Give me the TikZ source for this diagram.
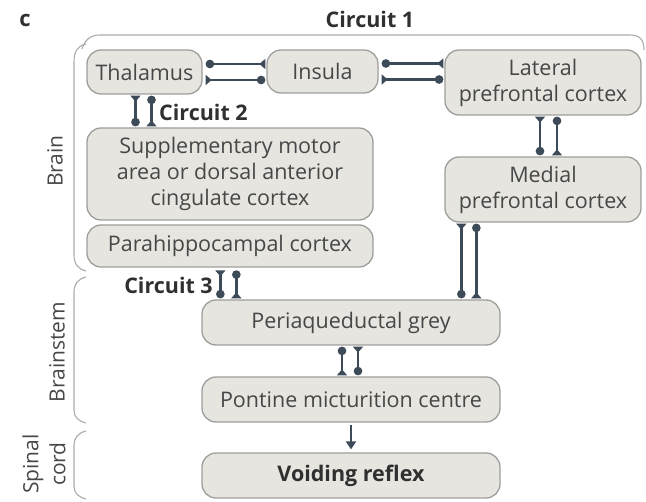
\documentclass[tikz,border=0pt]{standalone}
\usepackage{fontspec}
\setmainfont{Open Sans}
\usetikzlibrary{arrows.meta,calc}
\definecolor{boxfill}{HTML}{E6E5E0}
\definecolor{boxline}{HTML}{9E9E9C}
\definecolor{wire}{HTML}{3D4A58}
\definecolor{txt}{HTML}{474747}
\definecolor{txtdark}{HTML}{303030}
\definecolor{bracket}{HTML}{ABABAB}
\tikzset{
  region/.style={draw=boxline, line width=1.3pt, fill=boxfill, rounded corners=14pt,
    text=txt, font=\fontsize{21.5}{26}\selectfont, align=center, inner sep=0pt},
  heading/.style={text=txtdark, font=\fontsize{21.5}{24}\selectfont\bfseries, inner sep=0pt},
  side/.style={text=txt, font=\fontsize{21}{27}\selectfont, align=center, rotate=90, inner sep=0pt},
  brk/.style={draw=bracket, line width=1.1pt},
  link/.style={draw=wire, line width=2.3pt},
  dotend/.tip={Circle[length=8.5pt, width=8.5pt]},
  flatend/.tip={Triangle[reversed, length=6pt, width=10pt]},
  dotflat/.style={link, {dotend}-{flatend}, shorten <=1pt, shorten >=1pt},
  flatdot/.style={link, {flatend}-{dotend}, shorten <=1pt, shorten >=1pt},
}
\begin{document}
\begin{tikzpicture}[x=1pt, y=-1pt]
\useasboundingbox (0,0) rectangle (646,502);

% brackets grouping the regions
\draw[brk] (82,49) .. controls (85,40) and (90,35) .. (100,35) -- (630,35)
  .. controls (640,35) and (644,40) .. (644,50);
\draw[brk] (86,44) .. controls (77,46) and (74,52) .. (74,62) -- (74,255)
  .. controls (74,264) and (78,269) .. (86,271);
\draw[brk] (86,277) .. controls (78,279) and (74,284) .. (74,292) -- (74,410)
  .. controls (74,417) and (78,421) .. (86,423);
\draw[brk] (86,431) .. controls (78,433) and (74,438) .. (74,445) -- (74,486)
  .. controls (74,493) and (78,497) .. (86,499);

% titles and side labels
\node[heading, font=\fontsize{22}{24}\selectfont\bfseries] (lbl) at (25,20) {c};
\node[heading] (c1) at (370,19) {Circuit 1};
\node[side] (brain) at (55,161) {Brain};
\node[side] (stem) at (57,352) {Brainstem};
\node[side] (cord) at (44,464) {Spinal\\cord};

% regions
\node[region, minimum width=115pt, minimum height=44pt] (thal) at (144.5,72) {Thalamus};
\node[region, minimum width=111pt, minimum height=43pt] (ins) at (322.5,71.5) {Insula};
\node[region, minimum width=196pt, minimum height=65pt] (lpfc) at (543,82.5) {Lateral\\prefrontal cortex};
\node[region, minimum width=196pt, minimum height=65pt] (mpfc) at (543,189.5) {Medial\\prefrontal cortex};
\node[region, minimum width=286pt, minimum height=92pt] (sma) at (230,174)
  {Supplementary motor\\area or dorsal anterior\\cingulate cortex};
\node[region, minimum width=286pt, minimum height=42pt] (para) at (230,246) {Parahippocampal cortex};
\node[region, minimum width=298pt, minimum height=45pt] (pag) at (351,322.5) {Periaqueductal grey};
\node[region, minimum width=298pt, minimum height=45pt] (pmc) at (351,399.5) {Pontine micturition centre};
\node[region, minimum width=298pt, minimum height=45pt] (void) at (351,475.5) {\bfseries\color{txtdark}Voiding reflex};

% circuit 1: thalamus - insula - lateral PFC - medial PFC
\coordinate (ti1) at ($(thal.east)+(2,-8)$);
\coordinate (ti2) at ($(thal.east)+(2,8)$);
\draw[dotflat] (ti1) -- (ti1 -| ins.west);
\draw[flatdot] (ti2) -- (ti2 -| ins.west);
\coordinate (il1) at ($(ins.east)+(2,-8)$);
\coordinate (il2) at ($(ins.east)+(2,8)$);
\draw[dotflat] (il1) -- (il1 -| lpfc.west);
\draw[flatdot] (il2) -- (il2 -| lpfc.west);
\coordinate (lm1) at ($(lpfc.south)+(-3,0)$);
\coordinate (lm2) at ($(lpfc.south)+(14,0)$);
\draw[flatdot] (lm1) -- (lm1 |- mpfc.north);
\draw[dotflat] (lm2) -- (lm2 |- mpfc.north);

% circuit 2: thalamus - SMA/dACC
\coordinate (ts1) at ($(thal.south)+(-9,0)$);
\coordinate (ts2) at ($(thal.south)+(7,0)$);
\draw[flatdot] (ts1) -- (ts1 |- sma.north);
\draw[dotflat] (ts2) -- (ts2 |- sma.north);
\node[heading, anchor=west] (c2) at (159,112) {Circuit 2};

% medial PFC - PAG
\coordinate (mp1) at ($(mpfc.south west)+(17,0)$);
\coordinate (mp2) at ($(mpfc.south west)+(32,0)$);
\draw[flatdot] (mp1) -- (mp1 |- pag.north);
\draw[dotflat] (mp2) -- (mp2 |- pag.north);

% circuit 3: parahippocampal cortex - PAG
\coordinate (pp1) at ($(pag.north west)+(19,-30)$);
\coordinate (pp2) at ($(pag.north west)+(35,-30)$);
\draw[flatdot] (pp1) -- (pp1 |- pag.north);
\draw[dotflat] (pp2) -- (pp2 |- pag.north);
\node[heading, anchor=east] (c3) at (213,285) {Circuit 3};

% brainstem and spinal cord
\coordinate (pm1) at ($(pag.south)+(-9,0)$);
\coordinate (pm2) at ($(pag.south)+(7,0)$);
\draw[dotflat] (pm1) -- (pm1 |- pmc.north);
\draw[flatdot] (pm2) -- (pm2 |- pmc.north);
\draw[link, -{Triangle[length=8pt, width=10pt]}, shorten <=2pt, shorten >=3pt] (pmc.south) -- (void.north);
\end{tikzpicture}
\end{document}
